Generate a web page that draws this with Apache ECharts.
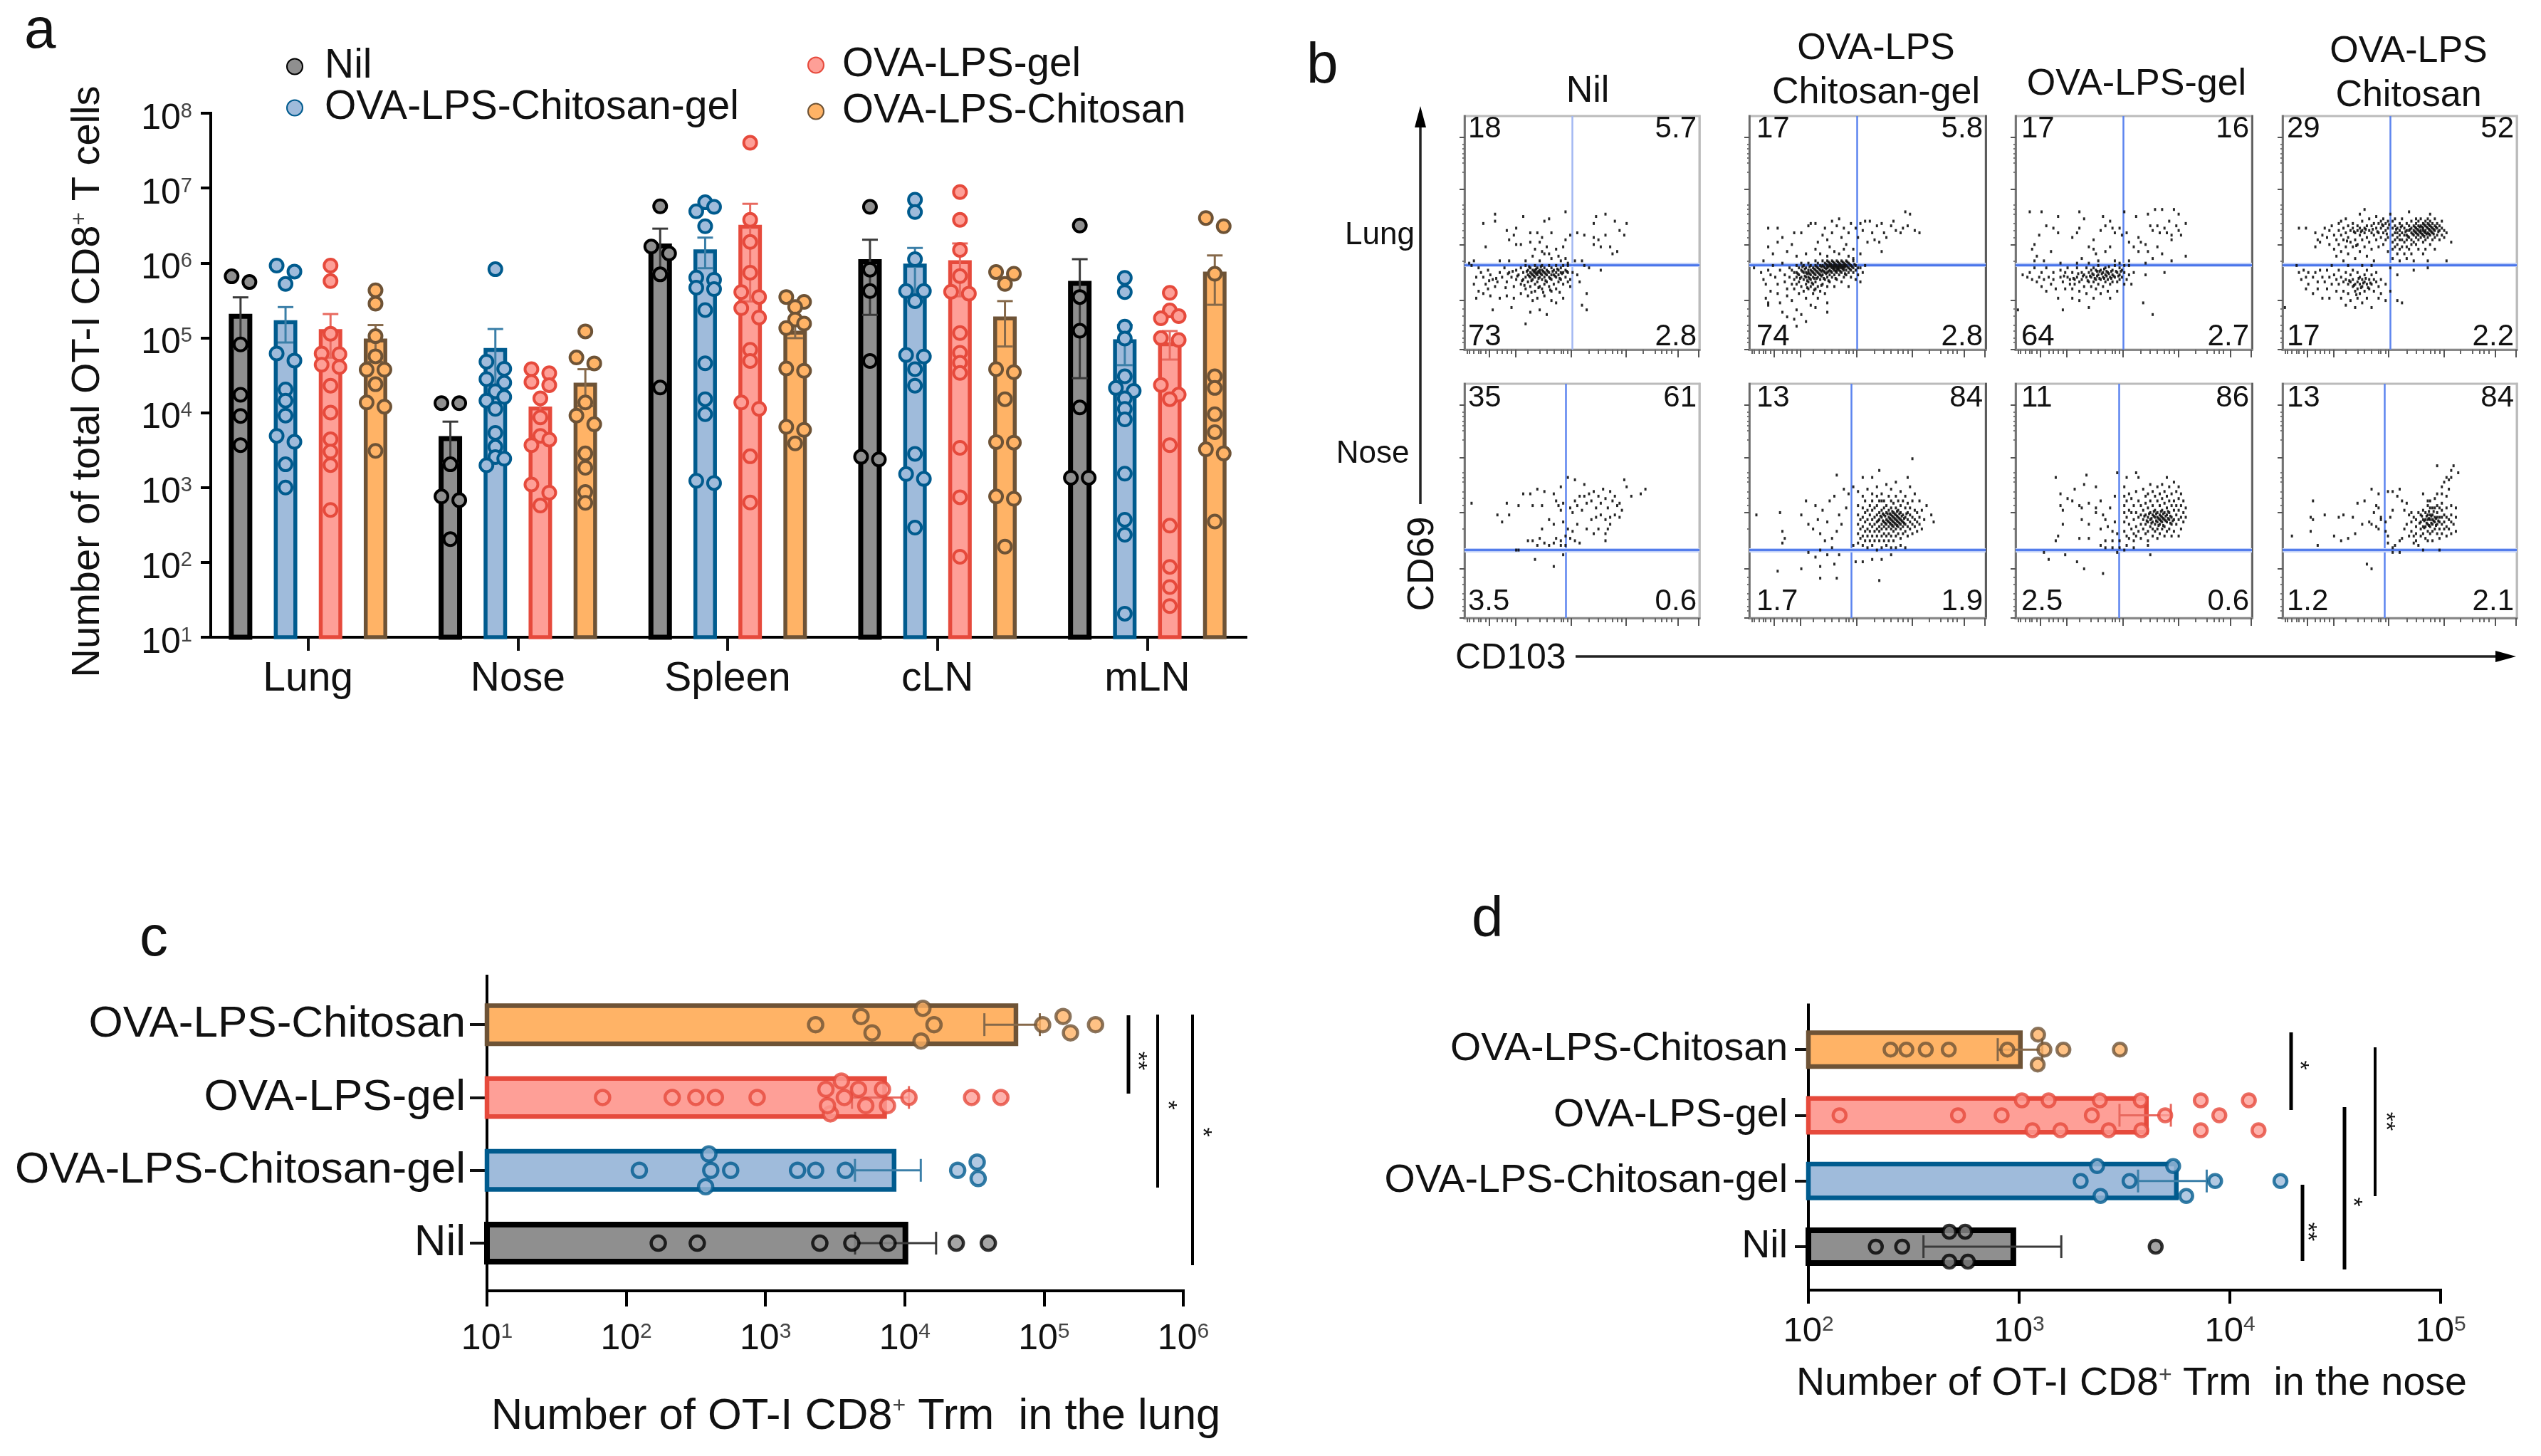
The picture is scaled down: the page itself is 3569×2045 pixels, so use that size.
<!DOCTYPE html>
<html><head><meta charset="utf-8"><title>OT-I CD8 T cells</title>
<style>html,body{margin:0;padding:0;background:#fff}#c{width:3569px;height:2045px}</style>
<script src="https://cdn.jsdelivr.net/npm/echarts@6/dist/echarts.min.js"></script></head>
<body><div id="c"></div>
<script>
// ---------- names ----------
const groups=['Nil','OVA-LPS-Chitosan-gel','OVA-LPS-gel','OVA-LPS-Chitosan'];
const tissues=['Lung','Nose','Spleen','cLN','mLN'];
// ---------- panel a : log10 of cell number ----------
const aMeanNil=[5.32,3.686,6.259,6.05,5.76], aHiNil=[5.54,3.88,6.458,6.31,6.05];
const aMeanBlue=[5.235,4.864,6.18,5.99,4.98], aHiBlue=[5.41,5.117,6.338,6.2,5.17];
const aMeanRed=[5.117,4.082,6.51,6.037,4.94], aHiRed=[5.317,4.2,6.79,6.26,5.09];
const aMeanOrange=[4.99,4.40,5.095,5.285,5.885], aHiOrange=[5.17,4.58,5.176,5.49,6.1];
const aDotsNil=[[5.745,5.821,4.911,4.238,3.956,3.566],[4.127,4.127,3.31,2.88,2.83,2.31],[6.757,6.22,6.126,5.847,4.336],[6.75,5.91,5.625,4.69,3.375,3.41],[6.5,5.545,5.095,4.07,3.13,3.13]];
const aDotsBlue=[[5.964,5.885,5.72,4.79,4.696,4.31,4.16,3.96,3.69,3.61,3.31,3.0],[5.916,4.68,4.585,4.447,4.40,4.285,4.21,4.16,4.05,3.73,3.543,3.407,3.385,3.296],[6.81,6.75,6.69,6.49,5.805,5.775,5.67,5.65,5.37,4.66,4.18,3.98,3.09,3.06],[6.845,6.68,6.05,5.625,5.625,5.49,4.77,4.75,4.58,4.36,3.45,3.18,3.115,2.465],[5.8,5.61,5.15,4.99,4.485,4.33,4.29,4.19,4.05,3.91,3.185,2.57,2.37,1.315]];
const aDotsRed=[[5.964,5.758,5.054,4.79,4.78,4.64,4.61,4.36,4.0,3.645,3.48,3.30,2.70],[4.58,4.526,4.41,4.368,4.19,3.936,3.69,3.64,3.566,3.04,2.93,2.76],[7.606,6.576,6.28,5.87,5.61,5.545,5.396,5.27,4.84,4.69,4.136,4.05,3.417,2.80],[6.947,6.576,6.173,5.824,5.615,5.59,5.063,4.8,4.667,4.53,3.53,2.87,2.075],[5.6,5.365,5.29,5.26,4.996,4.97,4.37,4.24,4.18,3.566,2.49,1.94,1.67,1.416]];
const aDotsOrange=[[5.634,5.457,5.022,4.753,4.574,4.574,4.38,4.136,4.08,3.49],[5.086,4.737,4.658,4.136,3.96,3.845,3.455,3.264,2.94,2.795],[5.545,5.48,5.41,5.244,5.19,5.13,4.59,4.56,3.81,3.77,3.59],[5.878,5.856,5.72,4.58,4.54,4.18,3.607,3.6,2.88,2.85,2.21],[6.6,6.49,5.856,4.485,4.33,3.98,3.74,3.51,3.455,2.545]];
// ---------- panel c : log10 of Trm in the lung ----------
const cMean=[4.025,3.94,3.872,4.815], cHi=[4.225,4.115,4.03,4.97];
const cDots=[[2.23,2.51,3.39,3.62,3.88,4.37,4.6],[2.094,2.57,2.593,2.607,2.75,3.23,3.36,3.574,4.38,4.52,4.527],[1.83,2.33,2.5,2.64,2.94,3.434,3.445,3.466,3.545,3.566,3.668,3.72,3.84,3.876,4.03,4.48,4.69],[3.36,3.686,3.765,4.117,4.13,4.21,4.99,5.137,5.19,5.37]];
// ---------- panel d : log10 of Trm in the nose ----------
const dMean=[2.986,3.757,3.615,3.017], dHi=[3.2,3.89,3.72,3.11];
const dDots=[[2.32,2.445,2.669,2.669,2.744,2.757,3.648],[3.292,3.37,3.386,3.524,3.731,3.793,3.93,4.24],[2.148,2.71,2.917,3.013,3.063,3.14,3.196,3.345,3.383,3.425,3.577,3.58,3.693,3.862,3.862,3.95,4.09,4.136],[2.39,2.465,2.557,2.666,2.944,3.088,3.09,3.12,3.21,3.478]];
// ---------- panel b : quadrant percentages [UL,UR,LL,LR] and gates ----------
const bTitlesRowLung=['Lung','Nose'];
const bQuadrants=[['18','5.7','73','2.8'],['17','5.8','74','2.8'],['17','16','64','2.7'],['29','52','17','2.2'],['35','61','3.5','0.6'],['13','84','1.7','1.9'],['11','86','2.5','0.6'],['13','84','1.2','2.1']];
const bGateX=[45.7,45.5,45.5,46,43,43,43.7,43.4];
const bGateY=[36.3,36.3,36.3,36.3,29,29,29,29];
const bMajorTicksX=[10.6,21.7,45.3,68.8,90.8,99.5];
const bMinorTicksX=[1,2,4,6,7,9,14,16,18,20,27,32,35,38,41,42,44,53,57,60,63,65,67,76,81,84,86,88];
const bMajorTicksY=[0.2,21,45,68.6,91];
const bMinorTicksY=[3,5,8,10.4,14.4,17.5,38,48,51,54,58,60,62,76,80,82,84,86,88];
// events, in percent of the plot box (x,y,x,y,...)
const flowLungNil=[13,58,13,55,25,57,8,54,43,59,34,55,36,56,56,57,60,58,64,55,69,54,66,51,55,54,18,51,22,52,21,49,28,50,31,50,33,48,37,50,45,49,48,50,51,49,55,48,57,47,60,49,68,49,55,45,62,44,58,44,65,42,63,41,19,47,22,45,24,45,28,46,32,46,35,44,43,47,42,44,9,44,30,43,33,42,34,41,36,41,29,40,39,43,40,40,43,39,37,39,15,38,19,38,26,38,32,38,2,37,4,38,47,38,50,38,51,36,41,38,44,37,53,35,58,34,3,36,6,35,7,33,8,31,10,34,11,32,12,30,9,28,5,31,4,28,6,25,8,24,10,26,13,27,14,29,15,33,16,31,17,35,18,29,19,33,20,31,21,27,22,34,22,30,23,32,24,35,24,28,25,33,25,30,26,36,26,31,26,26,27,34,27,32,27,29,28,35,28,33,28,31,28,27,29,34,29,32,29,30,30,36,30,34,30,33,30,31,30,28,30,25,31,35,31,33,31,32,31,29,32,34,32,33,32,31,32,27,33,36,33,34,33,32,33,30,33,26,34,35,34,33,34,31,34,28,35,34,35,32,35,29,36,36,36,33,36,31,36,27,37,35,37,32,37,30,37,25,38,34,38,32,38,28,39,36,39,33,39,31,39,26,40,34,40,32,40,29,41,35,41,33,41,30,42,36,42,33,42,28,43,34,43,31,44,36,44,33,44,29,45,30,45,27,46,33,48,32,49,29,52,24,15,22,18,23,21,22,24,24,27,23,29,21,31,22,34,23,37,21,39,20,42,22,5,22,11,23,12,17,20,18,28,16,32,17,35,15,26,11,50,19,52,17,26.5,33.5,27.5,31.5,27.5,35.5,28.5,32.5,28.5,29.5,29.5,33.5,29.5,31.5,30.5,32.5,30.5,34.5,31.5,30.5,31.5,33.5,32.5,35.5,32.5,32.5,33.5,33.5,34.5,32.5,34.5,29.5,35.5,33.5,36.5,30.5,37.5,33.5,38.5,31.5,39.5,34.5,40.5,30.5,41.5,32.5,22.5,31.5,20.5,33.5,24.5,29.5,43.5,33.5,18.5,32.5,13.5,30.5,10.5,29.5,25.5,27.5,33.5,24.5,36.5,25.5,40.5,24.5,17.5,26.5,28.5,24.5,31.5,26.5];
const flowLungChitGel=[8,52,12,52,14,48,8,44,12,46,10,41,16,42,18,45,19,50,22,50,25,53,26,54,28,54,29,46,31,49,32,52,33,47,34,44,35,55,35,50,37,53,38,56,39,48,40,52,41,45,42,50,43,54,44,43,45,52,46,48,47,54,48,51,49,55,50,46,51,55,52,50,53,47,54,53,55,46,56,54,57,50,58,48,60,53,61,55,62,51,64,50,65,52,66,59,68,58,67,53,70,51,72,50,56,42,28,43,24,41,20,40,30,41,33,40,36,42,38,41,40,43,42,40,44,39,47,41,6,38,2,35,5,33,6,30,7,28,8,34,9,32,9,25,7,22,10,36,11,31,12,28,12,24,13,34,13,20,14,37,15,32,15,29,16,26,16,23,17,35,17,31,18,34,18,28,18,21,19,33,19,30,19,26,20,36,20,33,20,31,20,28,21,35,21,32,21,29,21,24,22,37,22,34,22,31,22,27,23,36,23,33,23,30,23,25,24,35,24,33,24,31,24,28,24,22,25,37,25,34,25,33,25,31,25,29,25,26,26,36,26,34,26,32,26,30,26,27,26,19,27,35,27,33,27,31,27,28,27,24,28,38,28,36,28,34,28,32,28,29,28,26,29,37,29,35,29,33,29,31,29,27,29,22,30,36,30,34,30,32,30,30,30,25,31,38,31,36,31,34,31,32,31,28,32,37,32,35,32,33,32,30,32,24,33,38,33,36,33,35,33,33,33,31,33,27,34,37,34,36,34,34,34,32,34,29,35,38,35,36,35,35,35,33,35,31,36,37,36,36,36,35,36,34,36,32,36,27,37,38,37,36,37,35,37,34,37,33,37,30,38,37,38,36,38,35,38,34,38,32,39,38,39,36,39,35,39,33,39,29,40,37,40,36,40,35,40,34,40,31,41,38,41,36,41,34,41,32,42,37,42,35,42,33,42,27,43,36,43,34,43,31,44,38,44,35,44,33,45,36,45,34,45,30,46,35,46,32,47,35,48,33,49,36,47,29,8,20,8,19,14,16,16,14,20,17,22,15,19,13,24,12,28,18,33,20,20,10,33,16,20.5,32.5,21.5,30.5,22.5,33.5,22.5,35.5,23.5,31.5,23.5,34.5,24.5,32.5,24.5,29.5,25.5,35.5,25.5,32.5,25.5,30.5,26.5,33.5,26.5,28.5,27.5,34.5,27.5,32.5,27.5,30.5,28.5,35.5,28.5,33.5,28.5,30.5,29.5,34.5,29.5,32.5,30.5,35.5,30.5,33.5,30.5,31.5,31.5,35.5,31.5,33.5,31.5,30.5,32.5,36.5,32.5,34.5,32.5,32.5,33.5,37.5,33.5,35.5,33.5,33.5,34.5,36.5,34.5,35.5,34.5,33.5,35.5,37.5,35.5,35.5,35.5,34.5,36.5,36.5,36.5,35.5,36.5,33.5,37.5,37.5,37.5,35.5,37.5,34.5,38.5,36.5,38.5,35.5,38.5,33.5,39.5,37.5,39.5,35.5,39.5,34.5,40.5,36.5,40.5,35.5,40.5,32.5,41.5,37.5,41.5,35.5,42.5,36.5,42.5,34.5,43.5,35.5,44.5,36.5,27.5,25.5,30.5,27.5,33.5,29.5,36.5,30.5,24.5,26.5];
const flowLungGel=[6,59,11,59,27,59,18,57,29,56,37,57,40,55,46,59,51,57,56,58,59,60,62,60,67,60,69,58,72,54,70,49,13,53,16,52,18,50,27,52,26,50,24,48,10,49,33,47,36,51,38,53,41,52,42,50,44,52,45,49,47,50,48,46,50,44,52,48,53,46,55,45,57,53,58,51,60,53,61,50,63,52,64,50,66,49,66,47,68,53,69,51,65,55,52,42,56,42,60,44,62,41,66,38,72,40,58,39,55,37,48,36,48,38,33,43,31,44,34,41,38,42,40,44,42,38,44,37,46,36,8,45,7,43,9,40,15,42,8,38,12,38,19,37,26,37,28,39,31,37,35,38,3,32,5,31,6,33,7,30,8,35,9,29,10,31,11,33,11,27,12,30,13,35,13,25,14,31,15,28,16,33,16,30,17,26,18,22,19,34,19,31,20,29,21,33,21,26,22,35,22,31,23,30,23,28,24,33,24,26,24,22,25,30,25,28,26,35,26,31,27,29,27,25,27,21,28,33,28,30,29,27,29,32,30,35,30,31,30,24,31,29,31,33,32,34,32,31,32,27,33,35,33,32,33,29,33,22,34,34,34,30,34,26,35,36,35,32,35,28,36,34,36,30,36,24,37,33,37,31,37,27,38,35,38,32,38,29,39,33,39,30,39,25,40,31,40,28,40,22,41,34,41,32,41,29,42,36,42,31,43,33,43,29,43,25,44,35,44,32,44,30,45,34,45,31,46,33,46,28,47,30,48,32,49,28,50,33,55,32,63,33,54,20,58,15,1,17,20,17,31,18,20.5,31.5,24.5,30.5,26.5,32.5,28.5,31.5,30.5,29.5,31.5,31.5,32.5,32.5,33.5,30.5,34.5,31.5,34.5,33.5,35.5,30.5,35.5,33.5,36.5,32.5,37.5,34.5,37.5,30.5,38.5,33.5,38.5,31.5,39.5,35.5,39.5,32.5,40.5,33.5,40.5,30.5,41.5,31.5,42.5,33.5,43.5,31.5,44.5,33.5];
const flowLungChit=[46,58,47,55,47,52,47,49,47,46,47,43,47,39,48,56,48,53,48,50,48,47,48,44,49,52,49,50,49,48,49,45,49,41,50,54,50,51,50,49,50,47,50,43,50,38,51,56,51,53,51,50,51,47,51,44,52,52,52,49,52,46,52,41,53,54,53,51,53,49,53,47,53,44,53,39,54,59,54,53,54,51,54,48,54,43,55,55,55,52,55,50,55,47,55,45,55,41,56,53,56,51,56,49,56,46,56,38,57,56,57,54,57,52,57,50,57,48,57,45,58,55,58,53,58,51,58,49,58,47,58,43,59,56,59,53,59,51,59,50,59,48,60,54,60,52,60,51,60,49,60,46,60,41,61,55,61,53,61,51,61,50,61,47,61,43,62,56,62,54,62,52,62,50,62,48,62,38,63,58,63,55,63,53,63,51,63,49,63,45,64,54,64,52,64,50,64,47,65,56,65,53,65,51,65,48,65,43,66,54,66,52,66,49,67,53,67,51,67,47,68,55,68,52,68,49,69,51,69,48,70,50,72,46,70,38,62,35,7,52,10,52,14,50,15,47,14,44,16,46,17,49,18,52,19,48,20,45,20,51,21,53,22,49,22,43,23,47,23,40,24,54,24,51,24,45,25,55,25,49,25,42,26,52,26,47,26,38,27,56,27,50,27,44,28,53,28,48,28,41,29,51,29,46,30,54,30,52,30,44,31,50,31,47,31,39,32,53,32,51,32,45,33,58,33,52,33,49,33,42,34,55,34,51,34,47,35,60,35,52,35,50,35,44,36,53,36,48,36,40,37,56,37,51,37,46,38,53,38,50,38,43,39,54,39,49,39,38,40,57,40,52,40,47,41,54,41,50,41,44,42,55,42,52,42,48,43,56,43,53,43,50,43,45,44,54,44,51,44,47,45,55,45,52,45,48,45,42,1,18,6,36,7,33,8,30,9,34,10,31,10,26,11,33,11,28,13,31,13,24,14,33,15,29,15,26,16,34,17,31,17,22,18,29,19,34,19,26,20,31,20,22,21,36,21,28,22,32,23,30,23,25,24,34,24,28,25,31,25,22,26,29,26,25,27,33,27,30,27,19,28,36,28,28,28,24,29,32,29,29,29,21,30,34,30,30,30,27,31,28,31,25,31,18,32,33,32,29,32,26,32,22,33,31,33,28,33,24,34,36,34,30,34,27,34,20,35,32,35,29,35,25,36,34,36,28,36,22,37,30,37,26,38,36,38,32,38,28,38,18,39,30,39,25,40,33,40,29,41,27,41,22,42,30,42,24,44,28,44,21,46,35,46,25,49,21,51,20,49,32,56,34,54.5,51.5,55.5,49.5,56.5,52.5,56.5,50.5,57.5,51.5,57.5,49.5,58.5,52.5,58.5,50.5,59.5,52.5,59.5,49.5,60.5,53.5,60.5,50.5,60.5,48.5,61.5,52.5,61.5,49.5,62.5,53.5,62.5,51.5,62.5,49.5,63.5,52.5,63.5,50.5,64.5,51.5,64.5,49.5,65.5,52.5,66.5,50.5,52.5,50.5,53.5,48.5,50.5,52.5,48.5,51.5,30.5,50.5,33.5,50.5,35.5,51.5,38.5,51.5,40.5,50.5,42.5,53.5,44.5,49.5,45.5,53.5,27.5,46.5,31.5,44.5,28.5,29.5,30.5,27.5,32.5,30.5,33.5,26.5,34.5,28.5,35.5,30.5,36.5,26.5,31.5,23.5,37.5,28.5];
const flowNoseNil=[3,49,18,49,14,44,16,41,19,44,23,48,25,53,28,53,31,55,34,54,38,53,41,56,44,60,47,59,51,57,68,59,69,56,77,55,75,53,71,52,29,48,33,48,39,50,40,48,41,46,42,49,45,47,46,45,47,50,48,48,49,52,50,46,51,52,52,49,53,53,54,50,55,54,56,47,57,52,58,49,59,55,60,51,61,47,62,54,63,50,64,52,65,48,66,49,67,46,66,43,64,44,62,43,60,42,58,44,56,43,54,42,36,42,33,38,38,40,42,41,44,38,46,37,48,40,52,38,55,36,57,38,60,36,61,38,62,40,60,33,49,32,47,33,45,34,43,35,41,33,39,34,38,32,36,31,34,32,32,34,29,33,27,33,31,31,41,31,43,31,22,29,42,27,30,25,38,22,23,29];
const flowNoseChitGel=[3,44,13,45,22,44,25,40,14,37,15,34,14,32,37,61,48,60,52,60,55,63,69,68,67,60,24,50,28,48,31,46,34,50,36,52,38,44,40,55,33,41,29,42,27,38,30,36,32,33,35,34,37,37,39,40,41,47,42,53,44,56,46,54,48,52,50,55,52,53,54,56,56,50,58,57,60,55,62,58,64,54,66,52,68,56,70,53,72,50,73,46,75,48,77,44,78,41,35,30,30,29,33,27,38,27,28,26,25,28,45,24,48,24,52,25,56,25,60,27,62,30,30,22,36,23,12,20,22,21,30,17,37,17,55,16,44,31,46,32,48,31,50,30,52,31,54,29,56,30,58,31,60,30,64,31,66,30,46,36,46,40,46,44,46,48,47,34,47,38,47,42,48,35,48,39,48,43,48,47,49,33,49,37,49,41,49,45,49,50,50,35,50,38,50,42,50,46,51,33,51,37,51,40,51,44,51,48,52,35,52,39,52,42,52,46,52,50,53,33,53,37,53,40,53,43,53,47,54,35,54,38,54,41,54,44,54,48,54,52,55,33,55,37,55,39,55,42,55,45,55,50,56,35,56,38,56,40,56,43,56,46,56,53,57,33,57,36,57,39,57,41,57,44,57,47,57,50,58,35,58,38,58,40,58,42,58,45,58,48,59,33,59,36,59,39,59,41,59,43,59,46,59,52,60,35,60,38,60,40,60,42,60,44,60,47,60,50,61,33,61,37,61,39,61,41,61,43,61,45,61,49,62,35,62,38,62,40,62,42,62,44,62,47,62,52,63,36,63,39,63,41,63,43,63,46,63,50,64,34,64,38,64,40,64,42,64,45,64,48,65,36,65,39,65,41,65,44,65,50,66,37,66,40,66,43,66,47,67,35,67,39,67,42,67,45,67,49,68,38,68,41,68,44,68,47,69,36,69,40,69,43,69,50,70,39,70,42,70,46,71,37,71,41,71,45,72,40,72,43,73,38,74,42,54.5,41.5,55.5,43.5,56.5,41.5,56.5,44.5,57.5,40.5,57.5,43.5,58.5,41.5,58.5,44.5,59.5,40.5,59.5,42.5,59.5,44.5,60.5,39.5,60.5,41.5,60.5,43.5,60.5,45.5,61.5,40.5,61.5,42.5,61.5,44.5,62.5,39.5,62.5,41.5,62.5,43.5,62.5,45.5,63.5,40.5,63.5,42.5,63.5,44.5,64.5,41.5,64.5,43.5,65.5,40.5,65.5,42.5,66.5,44.5];
const flowNoseGel=[17,60,30,61,29,57,25,55,34,56,19,53,22,51,24,50,19,48,20,46,27,48,31,49,28,47,34,45,20,40,28,42,31,40,34,47,36,50,37,44,38,42,36,38,39,39,40,47,41,37,42,52,42,41,43,62,43,36,44,33,44,30,41,33,38,33,31,34,27,34,17,33,18,35,12,28,14,25,21,27,26,24,29,21,37,19,36,31,38,30,41,30,43,28,46,29,47,31,50,30,57,27,56,31,46,56,46,52,46,48,46,45,46,41,46,37,47,60,47,50,47,43,47,35,48,53,48,46,48,40,48,34,49,51,49,45,49,38,50,48,50,42,50,36,50,33,51,62,51,54,51,45,51,39,51,35,52,60,52,50,52,43,52,37,53,48,53,44,53,40,53,34,54,55,54,46,54,42,54,38,55,52,55,49,55,44,55,40,55,36,56,53,56,47,56,43,56,41,56,37,56,33,57,57,57,50,57,45,57,42,57,39,58,54,58,48,58,44,58,41,58,38,58,35,59,52,59,46,59,43,59,40,59,37,60,56,60,50,60,45,60,43,60,41,60,38,60,34,61,53,61,48,61,44,61,42,61,40,61,36,62,57,62,51,62,46,62,43,62,41,62,38,63,54,63,49,63,45,63,42,63,39,63,35,64,60,64,52,64,47,64,44,64,41,64,37,65,56,65,50,65,45,65,42,65,38,66,53,66,48,66,43,66,40,66,35,67,58,67,50,67,46,67,42,67,37,68,54,68,48,68,44,68,40,69,56,69,51,69,46,69,42,69,35,70,53,70,48,70,43,70,38,71,50,71,45,71,41,72,47,72,43,54.5,43.5,55.5,41.5,56.5,44.5,57.5,42.5,57.5,40.5,58.5,45.5,58.5,43.5,59.5,41.5,59.5,44.5,60.5,42.5,60.5,39.5,61.5,45.5,61.5,43.5,61.5,41.5,62.5,44.5,62.5,42.5,62.5,39.5,63.5,43.5,63.5,41.5,64.5,45.5,64.5,42.5,65.5,43.5,65.5,40.5,66.5,41.5];
const flowNoseChit=[13,50,12,43,13,42,12,37,4,35,15,31,18,44,24,43,26,44,30,43,25,33,22,35,28,34,31,36,34,40,35,50,32,49,38,55,41,53,40,48,41,47,42,42,39,45,37,41,38,40,40,39,41,38,42,43,44,41,44,37,45,54,47,54,47,46,46,43,45,35,45,32,47,30,48,31,50,28,47,28,36,23,38,21,50,55,49,52,51,50,52,46,53,49,54,44,55,41,55,37,56,35,56,32,58,31,60,29,67,29,66,65,73,65,75,62,72,63,72,60,70,60,69,58,71,59,68,56,66,53,68,53,71,55,70,52,60,53,63,50,65,51,62,48,64,47,66,48,68,49,72,48,74,47,74,43,72,44,73,40,74,37,72,36,59,44,59,41,59,38,59,35,60,46,60,42,60,39,60,36,61,45,61,42,61,39,61,34,62,50,62,44,62,42,62,40,62,37,62,33,63,47,63,44,63,42,63,39,63,36,64,44,64,42,64,40,64,37,64,33,65,47,65,43,65,41,65,38,66,45,66,43,66,40,66,36,67,47,67,43,67,41,67,38,67,34,68,46,68,43,68,40,68,36,69,44,69,41,69,38,70,47,70,43,70,39,70,35,71,42,71,38,72,41,57,42,57,39,57,36,57,33,55,45,53,40,52,38,54,35,51,34,50,33,56,43,58,45,58.5,40.5,59.5,43.5,60.5,41.5,60.5,38.5,61.5,43.5,61.5,40.5,62.5,45.5,62.5,42.5,62.5,39.5,63.5,43.5,63.5,40.5,64.5,45.5,64.5,41.5,65.5,42.5,65.5,39.5,66.5,41.5];
const flowPanels=[flowLungNil,flowLungChitGel,flowLungGel,flowLungChit,flowNoseNil,flowNoseChitGel,flowNoseGel,flowNoseChit];

// ---------- styles ----------
const FONT='"Liberation Sans",Arial,sans-serif';
const fills=['#8f8f8f','#9fbbdb','#fe9f97','#ffb366'];
const strokes=['#000000','#005b8e','#e64a3c','#6e5336'];
const errCols=['#3a3a3a','#3b7fa8','#e8695f','#86694a'];
const borderW=[7,5.5,5.5,5.5];
const borderWH=[8,6.5,6.5,6.5];
const bCols=[[2057,2387],[2457,2789],[2831,3163],[3206,3535]];
const bRows=[[163,491],[539,868]];
const rightCols=['#bbbbbb','#444444','#555555','#bbbbbb'];

const grids=[],xA=[],yA=[],series=[];
const addG=o=>(grids.push(o),grids.length-1),addX=o=>(xA.push(o),xA.length-1),addY=o=>(yA.push(o),yA.length-1);
const pow=v=>Math.pow(10,v);
const axLine=(w=4,c='#000')=>({show:true,onZero:false,lineStyle:{color:c,width:w,cap:'square'}});
const noLine={show:true,onZero:false,lineStyle:{color:'rgba(0,0,0,0)',width:1}};
const supRich=(b,s)=>({b:{fontFamily:FONT,fontSize:b,color:'#111',lineHeight:b},s:{fontFamily:FONT,fontSize:s,color:'#444',verticalAlign:'top',lineHeight:b}});
const powLabel=v=>'{b|10}{s|'+Math.round(Math.log10(v))+'}';

// Prism style swarm: values close together share a bin and are spread sideways
function swarm(vals,bin,step,pairFull){
  const s=[...vals].sort((a,b)=>b-a),out=[];let i=0;
  while(i<s.length){
    let j=i;while(j+1<s.length&&s[i]-s[j+1]<=bin)j++;
    const n=j-i+1;
    for(let k=0;k<n;k++){
      let off;
      if(n%2){off=k===0?0:(k%2?1:-1)*Math.ceil(k/2)*step;}
      else{const m=Math.floor(k/2);off=(k%2?1:-1)*(pairFull&&n===2?step:(m+.5)*step);}
      out.push([off,s[i+k]]);
    }
    i=j+1;
  }
  return out;
}
// data rows are [low, high, position]
function errSeries(name,data,horizontal,color,xi,yi,cap,w){
  return {type:'custom',name,xAxisIndex:xi,yAxisIndex:yi,z:3,silent:true,data,clip:false,
    renderItem(p,api){
      const a=horizontal?api.coord([api.value(0),api.value(2)]):api.coord([api.value(2),api.value(0)]);
      const b=horizontal?api.coord([api.value(1),api.value(2)]):api.coord([api.value(2),api.value(1)]);
      const st={stroke:color,lineWidth:w};
      const c=pt=>horizontal?{x1:pt[0],y1:pt[1]-cap,x2:pt[0],y2:pt[1]+cap}:{x1:pt[0]-cap,y1:pt[1],x2:pt[0]+cap,y2:pt[1]};
      return {type:'group',children:[
        {type:'line',shape:{x1:a[0],y1:a[1],x2:b[0],y2:b[1]},style:st},
        {type:'line',shape:c(a),style:st},{type:'line',shape:c(b),style:st}]};
    }};
}
const loFrom=(m,h)=>{const l=2*pow(m)-pow(h);return l>0?l:pow(m)/100;};

// ---------- panel a ----------
(function(){
  const gm=addG({left:285.3,top:159,width:1473.5,height:736});
  const go=addG({left:296,top:159,width:1454,height:736});
  const xc=addX({type:'category',gridIndex:gm,data:tissues,axisLine:noLine,
    axisTick:{show:true,alignWithLabel:true,length:19,lineStyle:{color:'#111',width:4}},
    axisLabel:{fontFamily:FONT,fontSize:57,color:'#111',margin:31}});
  const xv=addX({type:'value',gridIndex:gm,min:-.5,max:4.5,show:false});
  const yl=addY({type:'log',gridIndex:gm,min:10,max:1e8,show:false});
  addX({type:'value',gridIndex:go,min:0,max:1,axisLine:axLine(),axisTick:{show:false},axisLabel:{show:false},splitLine:{show:false}});
  addY({type:'log',gridIndex:go,min:10,max:1e8,splitNumber:7,axisLine:axLine(),splitLine:{show:false},minorTick:{show:false},
    axisTick:{length:14,lineStyle:{color:'#000',width:4}},
    axisLabel:{margin:26,formatter:powLabel,rich:supRich(50,29),padding:[16,0,0,0]},
    name:'{b|Number of total OT-I CD8}{s|+}{b| T cells}',nameLocation:'middle',nameGap:144,nameMoveOverlap:false,
    nameTextStyle:{rich:supRich(56,32),padding:[0,18,0,0]}});
  const means=[aMeanNil,aMeanBlue,aMeanRed,aMeanOrange],his=[aHiNil,aHiBlue,aHiRed,aHiOrange],dots=[aDotsNil,aDotsBlue,aDotsRed,aDotsOrange];
  const sp=63.2/294.7;
  groups.forEach((g,s)=>{
    series.push({type:'bar',name:g+' mean',xAxisIndex:xc,yAxisIndex:yl,z:2,barWidth:33,barGap:'91.5%',silent:true,
      data:means[s].map(pow),itemStyle:{color:fills[s],borderColor:strokes[s],borderWidth:borderW[s]}});
    const cx=i=>i+(s-1.5)*sp;
    series.push(errSeries(g+' SEM',means[s].map((m,i)=>[loFrom(m,his[s][i]),pow(his[s][i]),cx(i)]),false,errCols[s],xv,yl,11,3));
    const pts=[];
    dots[s].forEach((arr,i)=>swarm(arr,.13,12.5/294.7,true).forEach(([o,v])=>pts.push([cx(i)+o,pow(v)])));
    series.push({type:'scatter',name:g,xAxisIndex:xv,yAxisIndex:yl,z:4,symbolSize:18,silent:true,data:pts,
      itemStyle:{color:fills[s],borderColor:strokes[s],borderWidth:4,opacity:1}});
  });
})();

// ---------- panels c and d ----------
function hPanel(o){
  const gm=addG({left:o.left,top:o.mTop,width:o.w,height:o.mH});
  const go=addG({left:o.left,top:o.oTop,width:o.w,height:o.oH});
  const xh=addX({type:'log',gridIndex:gm,min:o.min,max:o.max,show:false});
  const yc=addY({type:'category',gridIndex:gm,data:groups,axisLine:noLine,
    axisTick:{show:true,alignWithLabel:true,length:o.tick,lineStyle:{color:'#111',width:4}},
    axisLabel:{fontFamily:FONT,fontSize:o.catFont,color:'#111',margin:o.catMargin}});
  const yv=addY({type:'value',gridIndex:gm,min:-.5,max:3.5,show:false});
  addX({type:'log',gridIndex:go,min:o.min,max:o.max,splitNumber:o.decades,axisLine:axLine(),splitLine:{show:false},minorTick:{show:false},
    axisTick:{length:o.xTick,lineStyle:{color:'#000',width:4}},
    axisLabel:{margin:o.xMargin,formatter:powLabel,rich:supRich(o.numFont,o.supFont)},
    name:o.title,nameLocation:'middle',nameGap:o.nameGap,nameMoveOverlap:false,
    nameTextStyle:{rich:supRich(o.nameFont,32),padding:[0,0,0,o.namePad]}});
  addY({type:'value',gridIndex:go,min:0,max:1,axisLine:axLine(),axisTick:{show:false},axisLabel:{show:false},splitLine:{show:false}});
  series.push({type:'bar',name:o.id+' mean',xAxisIndex:xh,yAxisIndex:yc,z:2,barWidth:o.bar,silent:true,
    data:o.mean.map((m,i)=>({value:pow(m),itemStyle:{color:fills[i],borderColor:strokes[i],borderWidth:borderWH[i]}}))});
  groups.forEach((g,s)=>{
    series.push(errSeries(o.id+' '+g+' SEM',[[loFrom(o.mean[s],o.hi[s]),pow(o.hi[s]),s]],true,errCols[s],xh,yv,o.cap,3));
    const pts=swarm(o.dots[s],o.bin,o.step/o.band,o.pairFull).map(([off,v])=>[pow(v),s+off]);
    series.push({type:'scatter',name:o.id+' '+g,xAxisIndex:xh,yAxisIndex:yv,z:4,symbolSize:o.dot,silent:true,data:pts,
      itemStyle:{color:fills[s],borderColor:strokes[s],borderWidth:4.5}});
  });
}
hPanel({id:'lung',left:684,w:978,mTop:1388,mH:409.2,oTop:1371,oH:442,min:10,max:1e6,decades:5,tick:24,xTick:22,catFont:62,nameFont:61.5,catMargin:30,
  numFont:50,supFont:30,xMargin:43,title:'{b|Number of OT-I CD8}{s|+}{b| Trm  in the lung}',nameGap:146,namePad:58,bar:60,band:102.3,
  mean:cMean,hi:cHi,dots:cDots,bin:.1,step:23,pairFull:false,cap:16,dot:20});
hPanel({id:'nose',left:2540,w:888,mTop:1428,mH:369.2,oTop:1411.5,oH:400.5,min:100,max:1e5,decades:3,tick:19,xTick:19,catFont:55.5,nameFont:55.5,catMargin:29,
  numFont:49,supFont:30,xMargin:34,title:'{b|Number of OT-I CD8}{s|+}{b| Trm  in the nose}',nameGap:104,namePad:20,bar:54,band:92.3,
  mean:dMean,hi:dHi,dots:dDots,bin:.07,step:21,pairFull:true,cap:16,dot:18});

// ---------- panel b ----------
const gfx=[];
const T=(x,y,text,size,o={})=>({type:'text',x,y,rotation:o.rot||0,silent:true,z:30,style:{text,fontFamily:FONT,fontSize:size,fontWeight:o.weight||'normal',fill:o.fill||'#111',align:o.align||'left',verticalAlign:'middle'}});
const L=(x1,y1,x2,y2,w,c='#000')=>({type:'line',silent:true,z:30,shape:{x1,y1,x2,y2},style:{stroke:c,lineWidth:w}});
const P=pts=>({type:'polygon',silent:true,z:30,shape:{points:pts},style:{fill:'#000'}});
flowPanels.forEach((flat,i)=>{
  const col=i%4,row=i<4?0:1,[l,r]=bCols[col],[t,b]=bRows[row];
  const g=addG({left:l,top:t,width:r-l,height:b-t,show:true,borderColor:'#bbbbbb',borderWidth:3,backgroundColor:'transparent'});
  const base={gridIndex:g,min:0,max:100,axisLabel:{show:false},splitLine:{show:false}};
  const tick=(vals,len,c)=>({show:true,customValues:vals,length:len,lineStyle:{color:c,width:2}});
  const x=addX({...base,type:'value',position:'bottom',axisLine:axLine(3,'#888888'),axisTick:tick(bMinorTicksX,6,'#666')});
  addX({...base,type:'value',position:'bottom',axisLine:{show:false},axisTick:tick(bMajorTicksX,11,'#555')});
  const y=addY({...base,type:'value',position:'left',axisLine:axLine(2.5,'#666666'),axisTick:tick(bMinorTicksY,3,'#777')});
  addY({...base,type:'value',position:'left',axisLine:{show:false},axisTick:tick(bMajorTicksY,7,'#555')});
  addY({...base,type:'value',position:'right',axisLine:axLine(2.5,rightCols[col]),axisTick:{show:false}});
  const pts=[];for(let k=0;k<flat.length;k+=2)pts.push([flat[k],flat[k+1]]);
  const vc=(row===0&&col===0)?'#a3b8f2':'#5c84ef';
  series.push({type:'scatter',name:'flow '+(i+1),xAxisIndex:x,yAxisIndex:y,symbol:'rect',symbolSize:[3,4],silent:true,z:3,
    data:pts,itemStyle:{color:'#111',opacity:.9},
    markLine:{silent:true,symbol:'none',animation:false,label:{show:false},z:2,data:[
      {xAxis:bGateX[i],lineStyle:{color:vc,width:2.5,type:'solid'}},
      {yAxis:bGateY[i],lineStyle:{color:'#c3d2f8',width:6,type:'solid'}},
      {yAxis:bGateY[i],lineStyle:{color:'#3c6bea',width:2.5,type:'solid'}}]}});
  const q=bQuadrants[i],pad=col===0?5:(col===1?10:(col===2?8:6)),yT=(row?573:195)-14,yB=(row?859:487)-14;
  gfx.push(T(l+pad,yT,q[0],42),T(r-4,yT,q[1],42,{align:'right'}),T(l+pad,yB,q[2],42),T(r-4,yB,q[3],42,{align:'right'}));
});
// titles, labels, arrows
gfx.push(T(34,45,'a',80),T(1835,94,'b',80),T(196,1320,'c',80),T(2067,1293,'d',80));
gfx.push(T(2230,129,'Nil',52,{align:'center'}),T(2635,69,'OVA-LPS',52,{align:'center'}),T(2635,131,'Chitosan-gel',52,{align:'center'}),
  T(3001,119,'OVA-LPS-gel',52,{align:'center'}),T(3383,73,'OVA-LPS',52,{align:'center'}),T(3383,135,'Chitosan',52,{align:'center'}));
gfx.push(T(1938,331,bTitlesRowLung[0],44,{align:'center'}),T(1928,638,bTitlesRowLung[1],44,{align:'center'}),
  T(1999,792,'CD69',52,{align:'center',rot:Math.PI/2}),T(2044,925,'CD103',50));
gfx.push(L(1995,175,1995,708,3.5,'#222'),P([[1995,149],[1987,179],[2003,179]]),L(2213,922,3510,922,3.5,'#222'),P([[3534,922],[3505,914],[3505,930]]));
// significance brackets
[[1585,1426,1536,5],[1626,1425,1668,4],[1675,1425,1777,4],[3218,1450,1559,5],[3234,1664,1771,5],[3293,1555,1783,5],[3336,1471,1680,4]].forEach(([x,a,b,w])=>gfx.push(L(x,a,x,b,w)));
[[1603,1490,'**'],[1645,1552,'*'],[1694,1590,'*'],[3235,1496,'*'],[3246,1730,'**'],[3310,1688,'*'],[3356,1575,'**']].forEach(([x,y,s])=>gfx.push(T(x-6,y,s,34,{align:'center',rot:-Math.PI/2})));

const chart=echarts.init(document.getElementById('c'),null,{renderer:'canvas',width:3569,height:2045});
chart.setOption({animation:false,backgroundColor:'#fff',grid:grids,xAxis:xA,yAxis:yA,series,graphic:{elements:gfx},
  legend:[{data:groups.slice(0,2),orient:'vertical',left:397,top:60,itemGap:1,icon:'circle',itemWidth:22,itemHeight:22,selectedMode:false,textStyle:{fontFamily:FONT,fontSize:57,color:'#111',padding:[0,0,0,26]}},
          {data:groups.slice(2),orient:'vertical',left:1129,top:58,itemGap:8,icon:'circle',itemWidth:22,itemHeight:22,selectedMode:false,textStyle:{fontFamily:FONT,fontSize:56.5,color:'#111',padding:[0,0,0,21]}}]});
</script></body></html>
